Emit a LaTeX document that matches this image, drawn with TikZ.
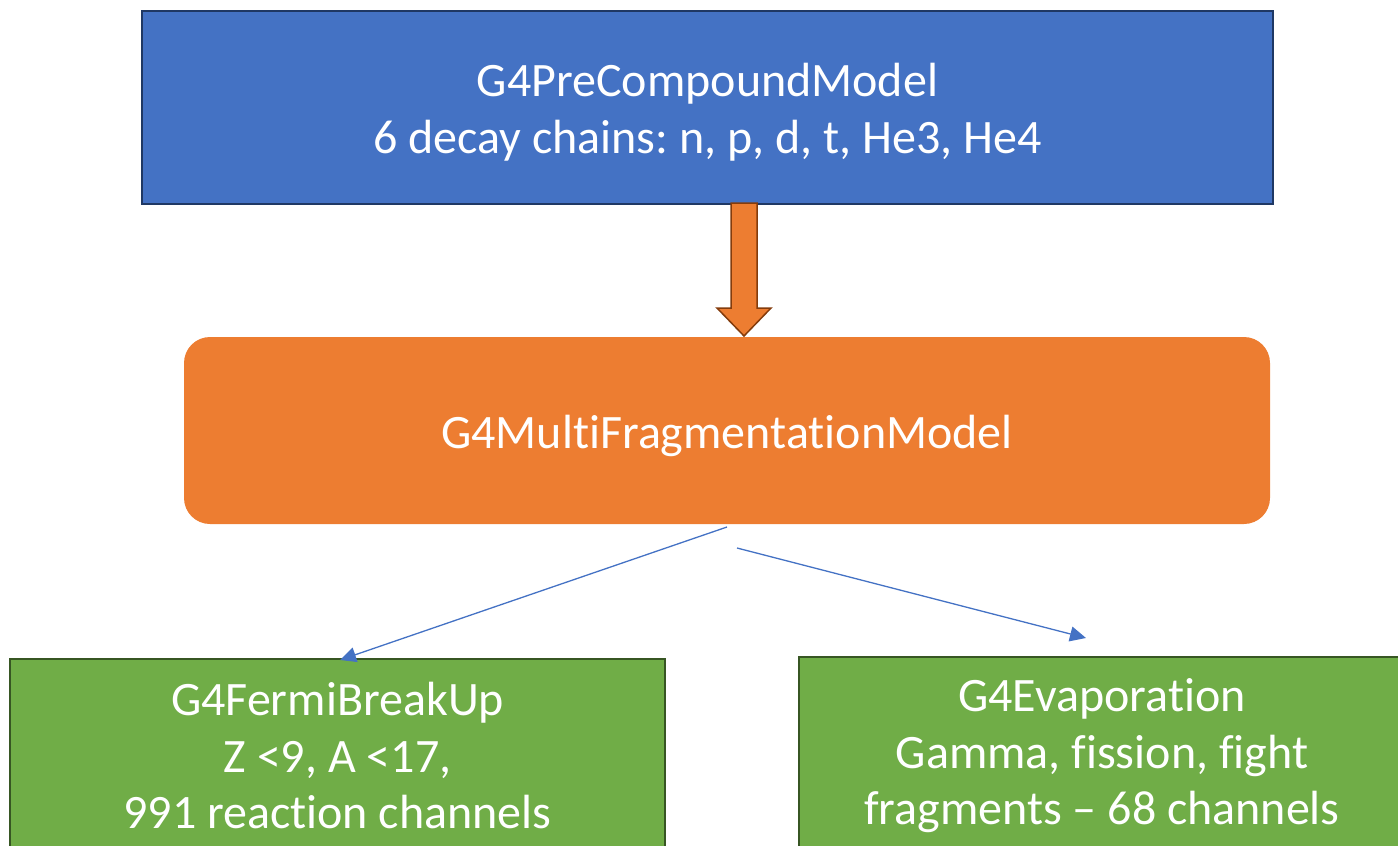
\documentclass[tikz,border=0pt]{standalone}
\usepackage{fontspec}
\setmainfont[RawFeature={-liga;-clig;-calt;-rlig;-dlig}]{Carlito}
\usetikzlibrary{arrows.meta}
\definecolor{cblue}{HTML}{4472C4}
\definecolor{cblueline}{HTML}{1F3864}
\definecolor{corange}{HTML}{ED7D31}
\definecolor{carrowline}{HTML}{843C0C}
\definecolor{cgreen}{HTML}{70AD47}
\definecolor{cgreenline}{HTML}{375623}
\definecolor{clink}{HTML}{4472C4}
\tikzset{
  x=1pt,y=1pt,
  boxtext/.style={text=white,align=center,font=\fontsize{48}{56.5}\selectfont\frenchspacing,inner sep=0pt},
  bluebox/.style={fill=cblue,draw=cblueline,line width=2pt,inner sep=0pt},
  orangebox/.style={fill=corange,draw=none,rounded corners=26pt,inner sep=0pt},
  greenbox/.style={boxtext,fill=cgreen,draw=cgreenline,line width=2pt},
  link/.style={draw=clink,line width=1.3pt,-{Triangle[length=16pt,width=15pt]}},
  blockarrow/.style={fill=corange,draw=carrowline,line width=1.5pt,line join=miter},
}
\begin{document}
\begin{tikzpicture}
\useasboundingbox (0,0) rectangle (1398,-846);
\node[bluebox,minimum width=1131pt,minimum height=193pt] (pre) at (707.5,-107) {};
\node[boxtext] (pretext) at (707.5,-112) {G4PreCompoundModel\\6 decay chains: n, p, d, t, He3, He4};
\node[orangebox,minimum width=1086pt,minimum height=187pt] (multi) at (727,-430.5) {};
\node[boxtext] (multitext) at (727,-435.5) {G4MultiFragmentationModel};
\node[greenbox,minimum width=655pt,minimum height=194pt] (fermi) at (337.5,-756) {G4FermiBreakUp\\Z <9, A <17,\\991 reaction channels};
\node[greenbox,minimum width=606pt,minimum height=198pt] (evap) at (1102,-756) {G4Evaporation\\Gamma, fission, fight\\fragments -- 68 channels};
\coordinate (bstart) at (744,-203);
\coordinate (bend) at (744,-336);
\draw[blockarrow]
  (731,-203) -- (757,-203) -- (757,-308) -- (771,-308) -- (bend) -- (717,-308) -- (731,-308) -- cycle;
\coordinate (l1) at (727,-527);
\coordinate (l2) at (340,-660);
\coordinate (r1) at (737,-548);
\coordinate (r2) at (1086,-638);
\draw[link] (l1) -- (l2);
\draw[link] (r1) -- (r2);
\end{tikzpicture}
\end{document}
